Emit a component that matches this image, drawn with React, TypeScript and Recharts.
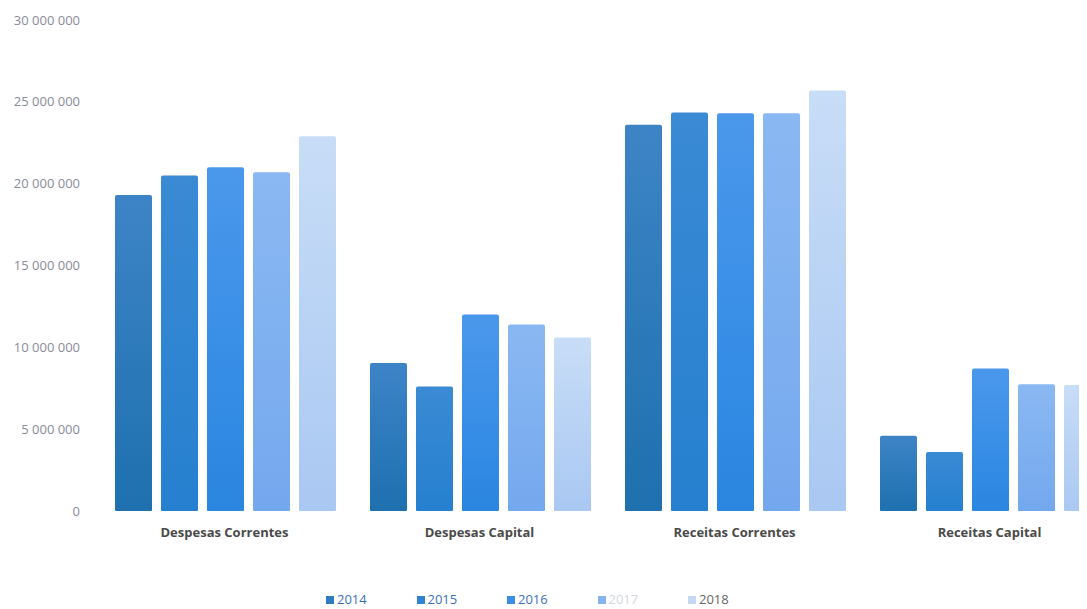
import React from 'react';
import { BarChart, Bar, XAxis, YAxis, Legend } from 'recharts';

const categories = ['Despesas Correntes', 'Despesas Capital', 'Receitas Correntes', 'Receitas Capital'];
const years = ['2014', '2015', '2016', '2017', '2018'];
const v2014 = [19300000, 9050000, 23600000, 4600000];
const v2015 = [20500000, 7600000, 24350000, 3600000];
const v2016 = [21000000, 12000000, 24300000, 8700000];
const v2017 = [20700000, 11400000, 24300000, 7750000];
const v2018 = [22900000, 10600000, 25700000, 7700000];
const yTicks = [0, 5000000, 10000000, 15000000, 20000000, 25000000, 30000000];

const seriesValues = [v2014, v2015, v2016, v2017, v2018];
const data = categories.map((name, i) => {
  const row: Record<string, any> = { name };
  years.forEach((y, j) => {
    row[y] = seriesValues[j][i];
  });
  return row;
});

const gradTop = ['#3d84c6', '#3a8ad4', '#4a98ec', '#8ab8f2', '#c8ddf7'];
const gradBottom = ['#1e70ae', '#2680cf', '#2a86e0', '#74a8ee', '#a9c8f2'];
const swatch = ['#2f7bc0', '#2e84d0', '#3a8ee6', '#86b2ee', '#c4d8f4'];
const legendText = ['#3a6fb8', '#3a72c0', '#3a72c0', '#d4d8e0', '#666666'];

const fmt = (v: number) => v.toLocaleString('en-US').replace(/,/g, ' ');

const LegendContent = () => (
  <div style={{ position: 'relative', height: 20, width: 1079 }}>
    {years.map((y, i) => (
      <div
        key={y}
        style={{
          position: 'absolute',
          left: 318 + i * 90.5,
          top: 0,
          display: 'flex',
          alignItems: 'center',
          fontFamily: 'Open Sans, sans-serif',
          fontSize: 13,
          lineHeight: '13px',
          height: 13,
          color: legendText[i],
        }}
      >
        <span style={{ display: 'inline-block', width: 8, height: 8, background: swatch[i], marginRight: 3 }} />
        {y}
      </div>
    ))}
  </div>
);

export default function App() {
  return (
    <div style={{ width: 1079, height: 601, overflow: 'hidden', background: '#fff' }}>
      <BarChart
        width={1130}
        height={615}
        data={data}
        margin={{ top: 12, right: 21, left: 0, bottom: 10 }}
        barCategoryGap={18}
        barGap={9}
      >
        <defs>
          {years.map((y, i) => (
            <linearGradient key={y} id={`g${y}`} x1="0" y1="0" x2="0" y2="1">
              <stop offset="0%" stopColor={gradTop[i]} />
              <stop offset="100%" stopColor={gradBottom[i]} />
            </linearGradient>
          ))}
        </defs>
        <XAxis
          dataKey="name"
          axisLine={false}
          tickLine={false}
          height={82}
          tickMargin={11}
          interval={0}
          tick={{ fontFamily: 'Open Sans, sans-serif', fontSize: 13, fontWeight: 700, fill: '#4a4a4a' }}
        />
        <YAxis
          width={89}
          domain={[0, 30000000]}
          ticks={yTicks}
          axisLine={false}
          tickLine={false}
          tickMargin={11}
          tickFormatter={fmt}
          tick={{ fontFamily: 'Open Sans, sans-serif', fontSize: 13, fill: '#8a8a98' }}
        />
        <Legend verticalAlign="bottom" height={20} content={<LegendContent />} wrapperStyle={{ left: 0, width: 1079 }} />
        {years.map((y) => (
          <Bar key={y} dataKey={y} fill={`url(#g${y})`} radius={[2, 2, 1, 1]} isAnimationActive={false} />
        ))}
      </BarChart>
    </div>
  );
}
